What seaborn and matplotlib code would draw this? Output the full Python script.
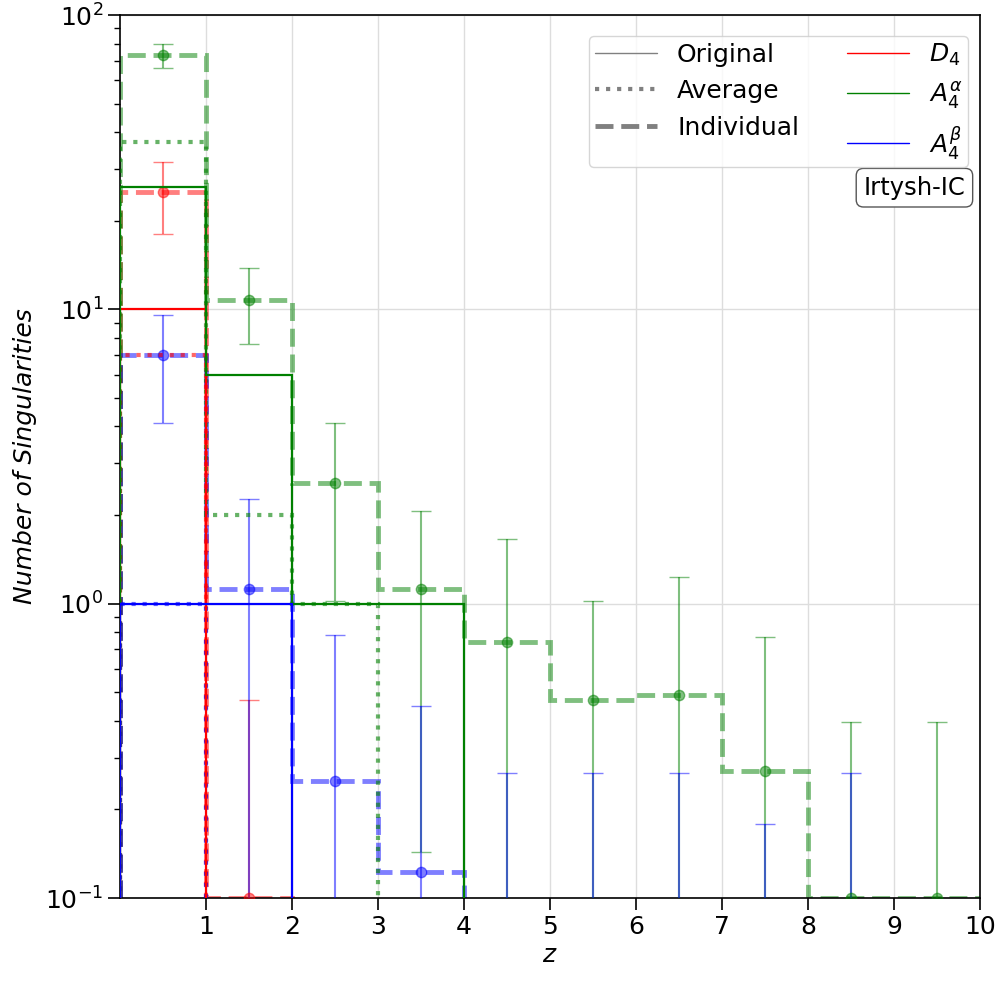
import numpy as np
import matplotlib
matplotlib.use("Agg")
import matplotlib.pyplot as plt
import seaborn as sns
from matplotlib.lines import Line2D

# ---------------- data ----------------
z_edges = np.arange(0, 11)
z_centers = z_edges[:-1] + 0.5

# Original (solid)
orig_D4 = [10, 0, 0, 0, 0, 0, 0, 0, 0, 0]
orig_A4a = [26, 6, 1, 1, 0, 0, 0, 0, 0, 0]
orig_A4b = [1, 1, 0, 0, 0, 0, 0, 0, 0, 0]

# Average (dotted)
avg_D4 = [7, 0, 0, 0, 0, 0, 0, 0, 0, 0]
avg_A4a = [37, 2, 1, 0, 0, 0, 0, 0, 0, 0]
avg_A4b = [1, 0, 0, 0, 0, 0, 0, 0, 0, 0]

# Individual (dashed) with error bars (lower / upper bounds)
ind_D4 = [25, 0.1]
ind_D4_lo = [18, 0]
ind_D4_hi = [31.6, 0.47]

ind_A4a = [73, 10.75, 2.58, 1.12, 0.74, 0.47, 0.49, 0.27, 0.1, 0.1]
ind_A4a_lo = [66, 7.6, 1.02, 0.143, 0, 0, 0, 0, 0, 0]
ind_A4a_hi = [80, 13.8, 4.1, 2.07, 1.66, 1.02, 1.23, 0.77, 0.395, 0.395]

ind_A4b = [7, 1.125, 0.25, 0.123, 0, 0, 0, 0, 0, 0]
ind_A4b_lo = [4.1, 0, 0, 0, 0, 0, 0, 0, 0, 0]
ind_A4b_hi = [9.6, 2.27, 0.78, 0.45, 0.266, 0.266, 0.266, 0.178, 0.266, 0]

series_labels = ["$D_4$", "$A_4^{\\alpha}$", "$A_4^{\\beta}$"]
series_colors = ["red", "green", "blue"]
style_labels = ["Original", "Average", "Individual"]
box_label = "Irtysh-IC"

# ---------------- plot ----------------
sns.set_style("ticks")
plt.rcParams["font.family"] = ["DejaVu Sans"]
plt.rcParams.update({"text.color": "black", "axes.labelcolor": "black",
                     "xtick.color": "black", "ytick.color": "black"})

fig = plt.figure(figsize=(10, 10), dpi=100)
ax = fig.add_axes([0.12, 0.102, 0.86, 0.883])

originals = [orig_D4, orig_A4a, orig_A4b]
averages = [avg_D4, avg_A4a, avg_A4b]
indiv = [(ind_D4, ind_D4_lo, ind_D4_hi),
         (ind_A4a, ind_A4a_lo, ind_A4a_hi),
         (ind_A4b, ind_A4b_lo, ind_A4b_hi)]

for (vals, lo, hi), col in zip(indiv, series_colors):
    vals = np.asarray(vals, float)
    lo = np.asarray(lo, float)
    hi = np.asarray(hi, float)
    n = len(vals)
    ax.stairs(vals, z_edges[: n + 1], baseline=0, color=col, lw=3.5,
              ls="--", alpha=0.5, zorder=2)
    ax.errorbar(z_centers[:n], vals, yerr=[vals - lo, hi - vals], fmt="none",
                ecolor=col, elinewidth=1.5, capsize=7.5, alpha=0.5, zorder=3)
    sns.scatterplot(x=z_centers[:n], y=vals, color=col, alpha=0.5, s=55,
                    edgecolor=col, linewidth=1, ax=ax, zorder=4)

for vals, col in zip(averages, series_colors):
    ax.stairs(vals, z_edges, baseline=0, color=col, lw=3, ls=":",
              alpha=0.6, zorder=5)

for vals, col in zip(originals, series_colors):
    ax.stairs(vals, z_edges, baseline=0, color=col, lw=1.6, ls="-",
              zorder=6)

ax.set_yscale("log")
ax.set_xlim(0, 10)
ax.set_ylim(0.1, 100)
ax.set_xticks(z_edges[1:])
ax.grid(True, which="major", color="#dddddd", lw=1)
ax.tick_params(axis="both", which="major", labelsize=18, length=8.5, width=1.2,
               colors="black")
ax.tick_params(axis="y", which="minor", length=4.5, width=1, colors="black")
for s in ax.spines.values():
    s.set_linewidth(1.2)
    s.set_color("black")

ax.set_xlabel("$z$", fontsize=18, labelpad=3, color="black")
ax.set_ylabel("Number of Singularities", fontsize=18, style="italic",
              labelpad=6, color="black")

style_handles = [
    Line2D([], [], color="gray", lw=1, ls="-"),
    Line2D([], [], color="gray", lw=3, ls=":"),
    Line2D([], [], color="gray", lw=3.5, ls="--"),
]
color_handles = [Line2D([], [], color=c, lw=1) for c in series_colors]
leg = ax.legend(style_handles + color_handles, style_labels + series_labels,
                ncol=2, loc="upper right", bbox_to_anchor=(0.986, 0.976),
                borderaxespad=0, fontsize=18, handlelength=2.5,
                handletextpad=0.8, columnspacing=1.9, borderpad=0.22,
                framealpha=0.8)
for t in leg.get_texts():
    t.set_color("black")

ax.text(0.983, 0.818, box_label, transform=ax.transAxes, ha="right",
        va="top", fontsize=17.5, color="black",
        bbox=dict(boxstyle="round,pad=0.3", facecolor="white",
                  edgecolor="#555555"))

fig.savefig("out.png", dpi=100)
